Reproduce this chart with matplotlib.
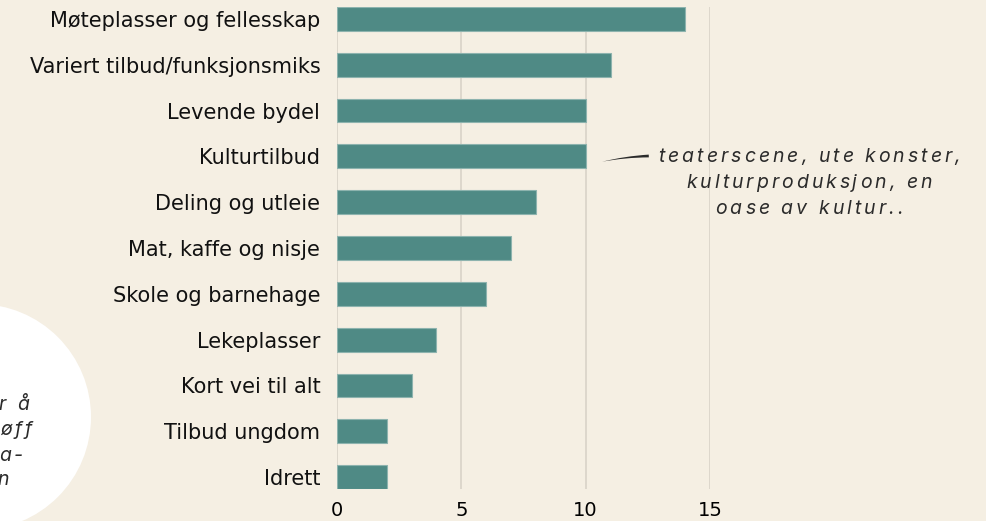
import matplotlib
matplotlib.use("Agg")
import matplotlib.pyplot as plt
from matplotlib.patches import Ellipse
from matplotlib.font_manager import FontProperties
from matplotlib.transforms import IdentityTransform

categories = ["Møteplasser og fellesskap", "Variert tilbud/funksjonsmiks", "Levende bydel",
              "Kulturtilbud", "Deling og utleie", "Mat, kaffe og nisje",
              "Skole og barnehage", "Lekeplasser", "Kort vei til alt",
              "Tilbud ungdom", "Idrett"]
values = [14, 11, 10, 10, 8, 7, 6, 4, 3, 2, 2]
xticks = [0, 5, 10, 15]
annotation_lines = ["teaterscene, ute konster,", "kulturproduksjon, en", "oase av kultur.."]
circle_lines = ["r å", "øff", "a-", "n"]

BG = "#f5efe3"
BAR = "#4f8a85"
LABEL_FONT = ["DejaVu Sans"]

W, H = 986, 521
DPI = 100
fig = plt.figure(figsize=(W / DPI, H / DPI), dpi=DPI, facecolor=BG)
renderer = fig.canvas.get_renderer()
iprop = FontProperties(family=["Inter", "DejaVu Sans"], style="italic", size=14)


def width(s):
    return renderer.get_text_width_height_descent(s, iprop, ismath=False)[0]


def tracked_text(s, x, y_base, tracking, ha="center", color="#2b2b2b"):
    """Letter-spaced text; x in px from left, y_base = baseline in px from top."""
    total = width(s) + tracking * (len(s) - 1)
    if ha == "center":
        x0 = x - total / 2
    elif ha == "right":
        x0 = x - total
    else:
        x0 = x
    for i, c in enumerate(s):
        if c == " ":
            continue
        left = width(s[:i + 1]) - width(c)
        fig.text(x0 + left + tracking * i, H - y_base, c, transform=IdentityTransform(),
                 fontproperties=iprop, ha="left", va="baseline", color=color)


# white circle at the left edge
circ = Ellipse((-22 / W, 1 - 417 / H), 2 * 113 / W, 2 * 113 / H,
               transform=fig.transFigure, facecolor="white", edgecolor="none", zorder=0)
fig.patches.append(circ)

for txt, xr, yb in zip(circle_lines, [29, 32, 23, 9], [410, 435, 461, 485]):
    tracked_text(txt, xr, yb, 3.0, ha="right")

ax = fig.add_axes([337 / W, 1 - 489 / H, (710 - 337) / W, (489 - 7) / H])
ax.set_facecolor("none")
y = list(range(len(categories)))
ax.barh(y, values, height=0.52, color=BAR, edgecolor="#8db3ae", linewidth=0.8, zorder=3)
ax.set_ylim(len(categories) - 1 + 0.26, -0.26)
ax.set_xlim(0, 15)
ax.set_xticks(xticks)
ax.set_xticklabels([str(t) for t in xticks], fontsize=14, family=LABEL_FONT)
ax.set_yticks(y)
ax.set_yticklabels(categories, fontsize=15, family=LABEL_FONT, color="#111111")
ax.tick_params(axis="both", length=0)
ax.tick_params(axis="x", pad=9)
ax.tick_params(axis="y", pad=12)
ax.xaxis.grid(True, color="#d9d3c8", linewidth=1.2, zorder=0)
ax.set_axisbelow(True)
for s in ax.spines.values():
    s.set_visible(False)

# annotation text (letter-spaced italic)
for i, line in enumerate(annotation_lines):
    tracked_text(line, 809, 162 + 26 * i, 3.0, ha="center")

# tapered brush stroke
ax.annotate("", xy=(10.55, 3.13), xycoords="data", xytext=(12.65, 2.99),
            textcoords="data",
            arrowprops=dict(arrowstyle="wedge,tail_width=0.2,shrink_factor=0.5",
                            color="#2b2b2b", linewidth=0,
                            connectionstyle="arc3,rad=0.05"), annotation_clip=False)

fig.savefig("out.png", dpi=DPI, facecolor=BG)
